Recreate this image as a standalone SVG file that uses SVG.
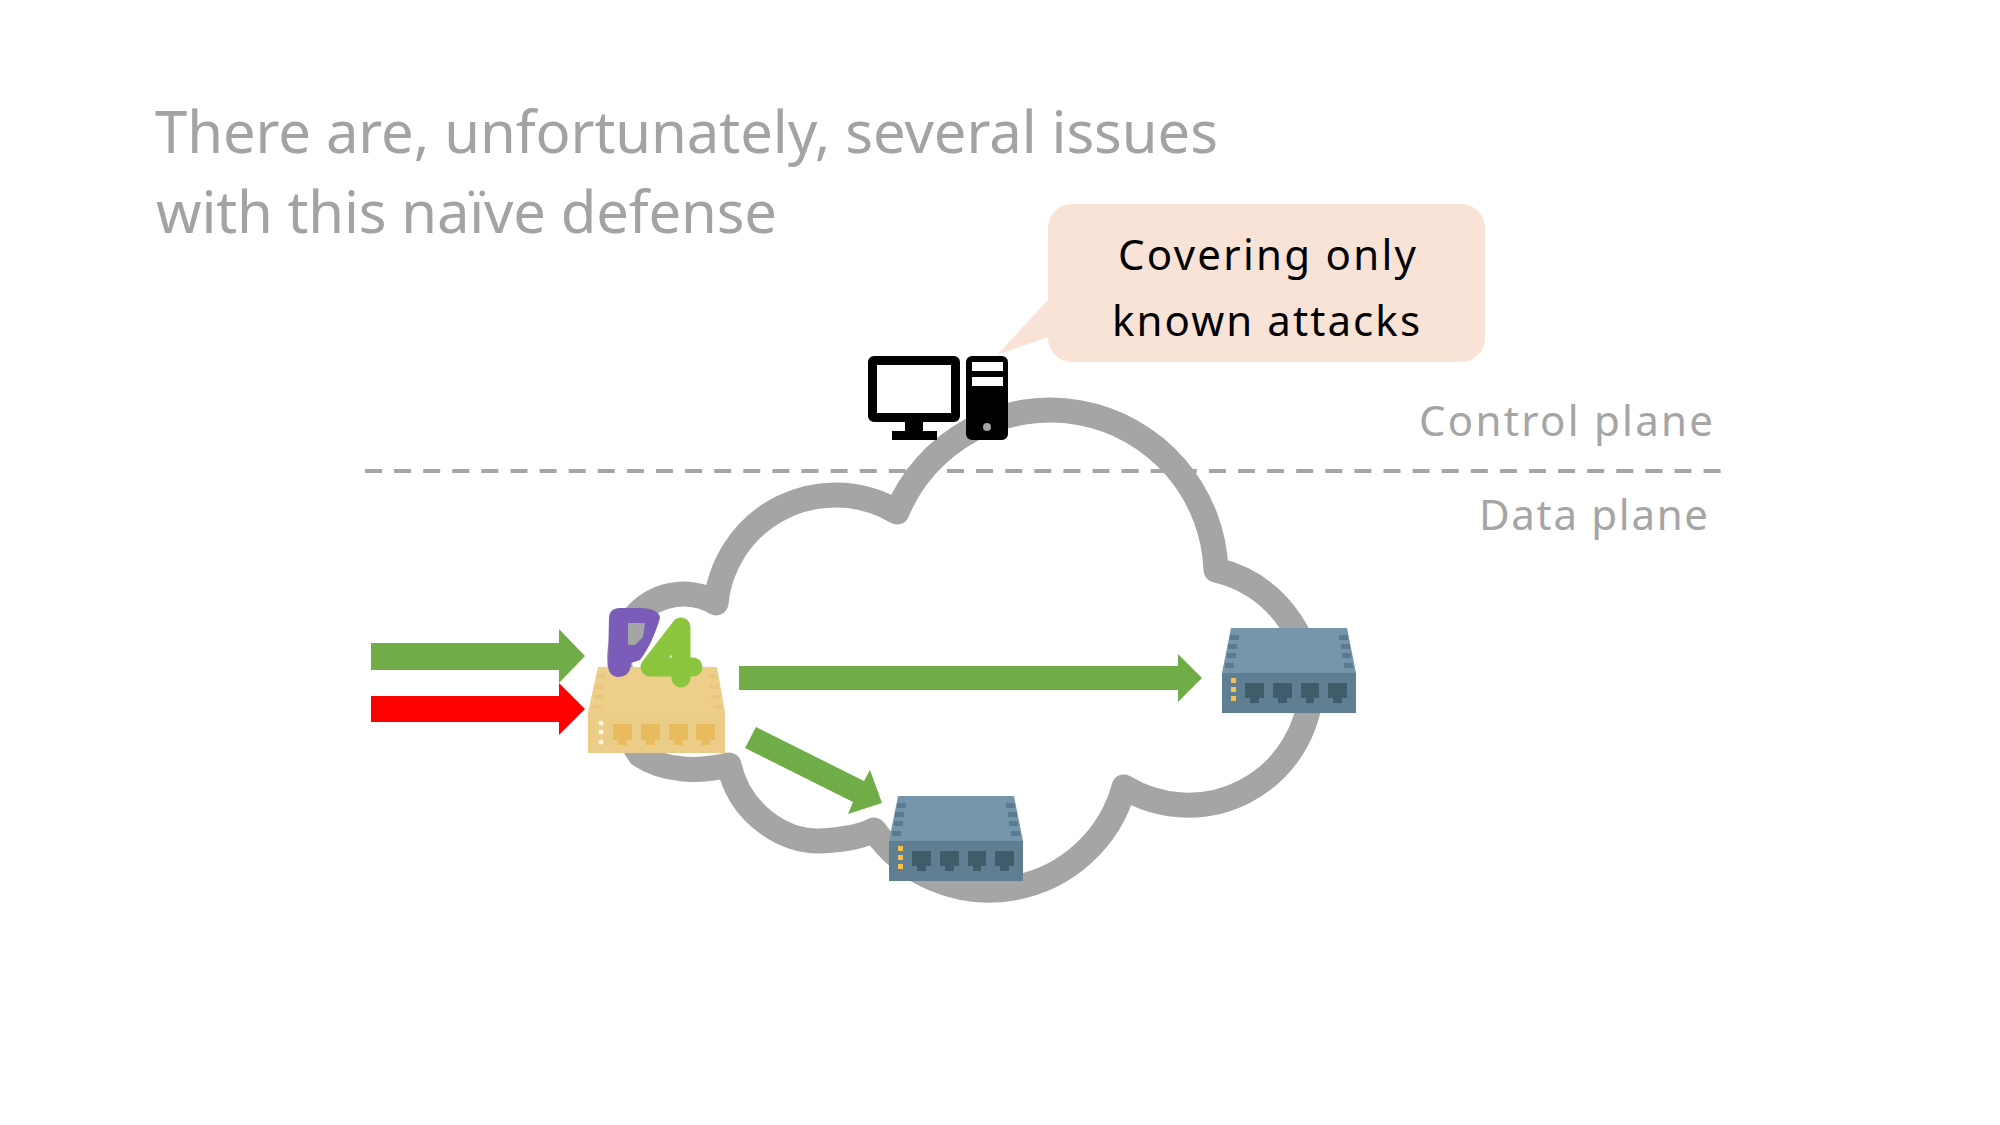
<svg xmlns="http://www.w3.org/2000/svg" width="2000" height="1125" viewBox="0 0 2000 1125">
<style>
.t{font-family:"Noto Sans","DejaVu Sans",sans-serif}
.title{font-size:58px;fill:#a3a3a3}
.plane{font-size:42px;fill:#a5a5a5}
.call{font-size:42px;fill:#000}
.go{fill:#70ad47}
</style>
<defs>
<g id="switch">
<path d="M9 0H125L134 45V85H0V45Z" fill="#7596aa"/>
<rect y="45" width="134" height="40" fill="#5f7e92"/>
<g fill="#5b7c90">
<rect x="8" y="7" width="9" height="5"/><rect x="6" y="16" width="9" height="5"/><rect x="5" y="25" width="9" height="5"/><rect x="3" y="35" width="9" height="5"/>
<rect x="117" y="7" width="9" height="5"/><rect x="119" y="16" width="9" height="5"/><rect x="120" y="25" width="9" height="5"/><rect x="122" y="35" width="9" height="5"/>
</g>
<g fill="#3f5c6b">
<path d="M23 55H42V70H37V75H28V70H23Z"/>
<path d="M51 55H70V70H65V75H56V70H51Z"/><path d="M79 55H97V70H92V75H84V70H79Z"/><path d="M106 55H125V70H120V75H111V70H106Z"/>
</g>
<g fill="#f4c24c"><rect x="9" y="50" width="5" height="5"/><rect x="9" y="59" width="5" height="5"/><rect x="9" y="68" width="5" height="5"/></g>
</g>
</defs>
<g id="title">
<text class="t title" x="155" y="153" textLength="1063">There are, unfortunately, several issues</text>
<text class="t title" x="156" y="233" textLength="621">with this naïve defense</text>
</g>
<g id="plane-labels">
<path d="M365 471H1722" stroke="#a5a5a5" stroke-width="4" stroke-dasharray="17 12.1" fill="none"/>
<text class="t plane" x="1419" y="436" textLength="294">Control plane</text>
<text class="t plane" x="1479" y="530" textLength="229">Data plane</text>
</g>
<g id="cloud">
<path d="M716 603A120 120 0 0 1 897 512A166 166 0 0 1 1216 570A123 123 0 0 1 1311 690A123 123 0 0 1 1124 787A140 140 0 0 1 874 830C858 838 840 840 820 841C785 842 740 815 729 765C700 772 665 772 640 755C625 735 625 705 628 690A64 64 0 0 1 716 603Z" fill="none" stroke="#a5a5a5" stroke-width="25" stroke-linejoin="round"/>
</g>
<g id="controller">
<path fill-rule="evenodd" d="M874 356H954A6 6 0 0 1 960 362V416A6 6 0 0 1 954 422H923V431H937V440H892V431H905V422H874A6 6 0 0 1 868 416V362A6 6 0 0 1 874 356ZM877 365V413H951V365Z"/>
<path fill-rule="evenodd" d="M972 356H1002A6 6 0 0 1 1008 362V434A6 6 0 0 1 1002 440H972A6 6 0 0 1 966 434V362A6 6 0 0 1 972 356ZM972 362V371H1003V362ZM972 377V386H1003V377Z"/>
<circle cx="987" cy="427" r="4" fill="#a5a5a5"/>
</g>
<g id="callout">
<path d="M1072 204H1461A24 24 0 0 1 1485 228V338A24 24 0 0 1 1461 362H1072A24 24 0 0 1 1048 338V337L997 355L1048 300V228A24 24 0 0 1 1072 204Z" fill="#f9e3d6"/>
<text class="t call" x="1118" y="270" textLength="298">Covering only</text>
<text class="t call" x="1112" y="336" textLength="308">known attacks</text>
</g>
<g id="connectors">
<path class="go" d="M371 643H559V629L585 656L559 683V670H371Z"/>
<path fill="#f00" d="M371 696H559V683L585 709L559 735V722H371Z"/>
<path class="go" d="M739 666H1178V654L1202 678L1178 702V690H739Z"/>
<path class="go" d="M756 727L864 781L870 770L882 803L848 814L853 802L745 748Z"/>
</g>
<g id="switch-p4">
<path d="M598 667H717L725 712V753H588V712Z" fill="#edcf8a"/>
<rect x="588" y="712" width="137" height="41" fill="#ebcd87"/>
<g fill="#e8c67c">
<rect x="597" y="674" width="9" height="4"/><rect x="595" y="685" width="9" height="4"/><rect x="594" y="695" width="9" height="4"/><rect x="592" y="705" width="9" height="4"/>
<rect x="708" y="674" width="9" height="4"/><rect x="710" y="685" width="9" height="4"/><rect x="711" y="695" width="9" height="4"/><rect x="713" y="705" width="9" height="4"/>
</g>
<g fill="#e8bb5e"><path d="M613 724H632V740H627V745H618V740H613Z"/><path d="M641 724H660V740H655V745H646V740H641Z"/><path d="M669 724H688V740H683V745H674V740H669Z"/><path d="M696 724H715V740H710V745H701V740H696Z"/></g>
<g fill="#fdf3dc"><circle cx="601" cy="723" r="2.5"/><circle cx="601" cy="732" r="2.5"/><circle cx="601" cy="742" r="2.5"/></g>
<path fill="#7b5cb9" d="M620 608H640C652 608 660 612 660 618C655 635 648 650 640 660L631 663C631 672 626 677 618 677C612 677 608 672 608 665L609 618C609 612 613 608 620 608Z"/>
<path fill="#a5a5a5" d="M628 623H645L643 637L635 645H628Z"/>
<path fill="none" stroke="#8cc63f" stroke-width="19" stroke-linecap="round" stroke-linejoin="round" d="M681 678V627L650 667H693"/>
</g>
<g id="switch-a"><use href="#switch" x="1222" y="628"/></g>
<g id="switch-b"><use href="#switch" x="889" y="796"/></g>
</svg>
